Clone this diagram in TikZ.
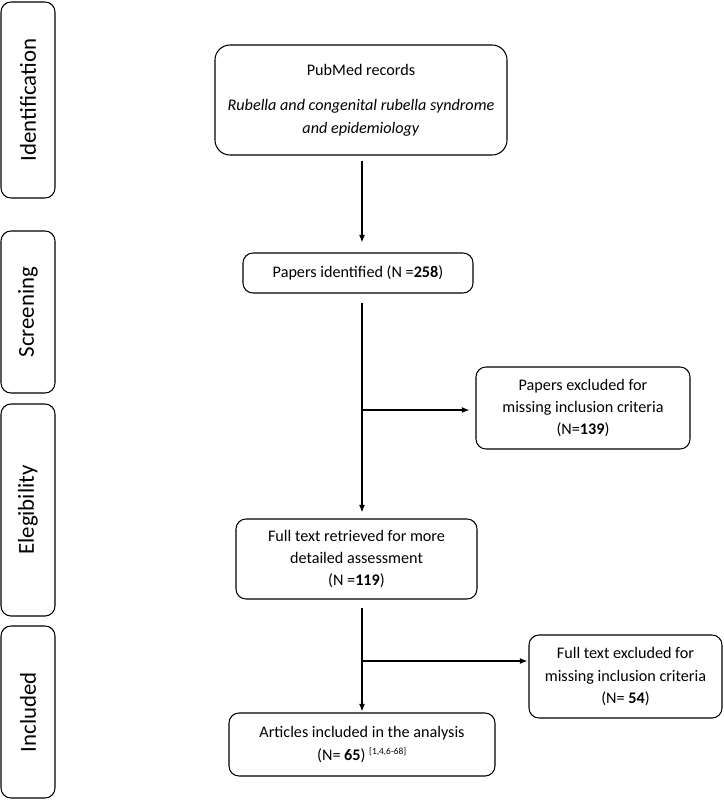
\documentclass[tikz,border=0pt]{standalone}
\usepackage{fontspec}
\setmainfont{Carlito}
\usetikzlibrary{arrows.meta}
\begin{document}
\begin{tikzpicture}[x=0.03cm,y=-0.03cm,
  box/.style={draw,line width=0.9pt,rounded corners=0.3cm,align=center,inner sep=0pt,
    font=\fontsize{13.8}{19.2}\selectfont},
  phase/.style={draw,line width=0.9pt,rounded corners=0.3cm,rotate=90,inner sep=0pt,
    minimum height=1.62cm,font=\fontsize{19.5}{22}\selectfont},
  arr/.style={-{Latex[length=2.3mm,width=1.8mm]},line width=1pt}]

\useasboundingbox (0,0) rectangle (724,800);

% phases
\node[phase,minimum width=5.88cm] (ident) at (28,100) {Identification};
\node[phase,minimum width=4.86cm] (screen) at (28,312) {Screening};
\node[phase,minimum width=6.36cm] (elig) at (28,510) {Elegibility};
\node[phase,minimum width=5.16cm] (incl) at (28,712) {Included};

% flow
\node[box,rounded corners=0.45cm,minimum width=8.76cm,minimum height=3.3cm] (pubmed) at (361,100)
  {PubMed records\\[0.4cm]
   \textit{Rubella and congenital rubella syndrome}\\
   \textit{and epidemiology}};
\node[box,minimum width=6.9cm,minimum height=1.2cm] (papers) at (358,273)
  {Papers identified (N =\textbf{258})};
\node[box,minimum width=6.42cm,minimum height=2.46cm] (excl1) at (583,408)
  {Papers excluded for\\ missing inclusion criteria\\ (N=\textbf{139})};
\node[box,minimum width=7.23cm,minimum height=2.4cm] (full) at (356.5,559)
  {Full text retrieved for more\\ detailed assessment\\ (N =\textbf{119})};
\node[box,minimum width=5.79cm,minimum height=2.49cm] (excl2) at (625.5,676.5)
  {Full text excluded for\\ missing inclusion criteria\\ (N= \textbf{54})};
\node[box,minimum width=7.98cm,minimum height=1.89cm] (art) at (362,744.5)
  {Articles included in the analysis\\ (N= \textbf{65})~\textsuperscript{\fontsize{8}{8}\selectfont[1,4,6-68]}};

\coordinate (j1) at (362,410);
\coordinate (j2) at (362,661);

\draw[arr,shorten <=0.15cm,shorten >=0.3cm] (pubmed.south -| j1) -- (papers.north -| j1);
\draw[arr,shorten <=0.27cm,shorten >=0.18cm] (papers.south -| j1) -- (full.north -| j1);
\draw[arr,shorten >=0.18cm] (j1) -- (j1 -| excl1.west);
\draw[arr,shorten <=0.24cm,shorten >=0.03cm] (full.south -| j2) -- (art.north -| j2);
\draw[arr,shorten >=0.03cm] (j2) -- (j2 -| excl2.west);

\end{tikzpicture}
\end{document}
